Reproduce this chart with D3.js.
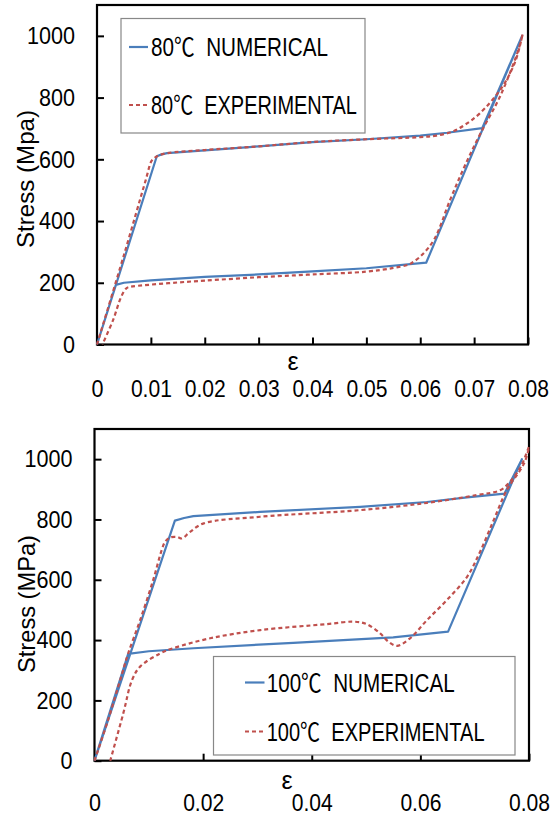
<!DOCTYPE html>
<html>
<head>
<meta charset="utf-8">
<script src="https://cdn.jsdelivr.net/npm/d3@7"></script>
<style>
  html, body { margin: 0; padding: 0; background: #fff; }
  svg { display: block; }
  text { font-family: 'Liberation Sans', Arial, sans-serif; fill: #000; }
  .leg { white-space: pre; }
</style>
</head>
<body>
<svg id="chart" width="560" height="816"></svg>
<script>
// ---------- DATA ----------
// Panel 1: 80°C
const top_num_strain = [0, 0.0111, 0.012, 0.013, 0.02, 0.03, 0.04, 0.05, 0.06, 0.065, 0.0715, 0.0789, 0.0611, 0.05, 0.04, 0.03, 0.02, 0.01, 0.005, 0.0035, 0];
const top_num_stress = [0, 610, 616, 620, 629, 642, 656, 665, 677, 686, 701, 1000, 265, 247, 237, 227, 219, 208, 200, 193, 0];
const top_exp_strain = [0, 0.005, 0.009, 0.0101, 0.0107, 0.0115, 0.013, 0.02, 0.03, 0.04, 0.05, 0.06, 0.063, 0.066, 0.0683, 0.071, 0.075, 0.0776, 0.079,
  0.0783, 0.0749, 0.0713, 0.0683, 0.0656, 0.0626, 0.0603, 0.0585, 0.0577, 0.055, 0.05, 0.04, 0.03, 0.02, 0.015, 0.01, 0.0075, 0.0062, 0.0055, 0.0045, 0.003, 0.001];
const top_exp_stress = [0, 290, 530, 594, 605, 613, 620, 630, 642, 656, 665, 672, 677, 690, 712, 748, 829, 915, 1005,
  959, 807, 688, 580, 471, 341, 290, 265, 258, 248, 236, 227, 218, 207, 201, 194, 190, 187, 183, 155, 80, 0];

// Panel 2: 100°C
const bot_num_strain = [0, 0.0148, 0.0165, 0.0182, 0.0305, 0.0489, 0.0612, 0.0686, 0.0755, 0.0787, 0.0651, 0.055, 0.0366, 0.0182, 0.01, 0.0062, 0];
const bot_num_stress = [0, 796, 805, 811, 825, 842, 858, 873, 886, 1000, 428, 409, 391, 373, 363, 354, 0];
const bot_exp_strain = [0, 0.0025, 0.0051, 0.0062, 0.0084, 0.0108, 0.0124, 0.013, 0.0139, 0.0152, 0.0161, 0.0176, 0.0201, 0.0305, 0.0489, 0.0612, 0.0704, 0.0747, 0.0765, 0.0785, 0.08,
  0.0791, 0.0759, 0.0735, 0.071, 0.0686, 0.0649, 0.0612, 0.0581, 0.0557, 0.0541, 0.0526, 0.0501, 0.0477, 0.0428, 0.0305, 0.0213, 0.0145, 0.0121, 0.0084, 0.0069, 0.0053, 0.0029];
const bot_exp_stress = [0, 135, 290, 356, 466, 599, 700, 726, 740, 742, 737, 759, 787, 809, 831, 855, 881, 897, 925, 975, 1041,
  986, 897, 798, 693, 610, 533, 466, 406, 381, 395, 422, 453, 461, 453, 433, 406, 373, 356, 312, 267, 157, 0];

const top_x_ticks = [0, 0.01, 0.02, 0.03, 0.04, 0.05, 0.06, 0.07, 0.08];
const bot_x_ticks = [0, 0.02, 0.04, 0.06, 0.08];
const y_ticks = [0, 200, 400, 600, 800, 1000];
const top_legend = ["80", "NUMERICAL", "EXPERIMENTAL"];
const bot_legend = ["100", "NUMERICAL", "EXPERIMENTAL"];
const top_ylabel = "Stress (Mpa)";
const bot_ylabel = "Stress (MPa)";

// ---------- STYLE ----------
const BLUE = "#4A7EBB", RED = "#C0504D";
const DASH = "4,3";
const svg = d3.select("#chart");
const fmtX = d => d === 0 ? "0" : d3.format(".2f")(d);
const fmtY = d3.format("d");
// approximate narrow (Calibri-like) widths
const labelLen = s => s.split("").reduce((a, c) => a + (c === "." ? 5 : 12), 0);

function styleTicks(sel) {
  sel.selectAll("text")
    .attr("font-size", 24).attr("font-family", null).attr("fill", "#000")
    .attr("textLength", function() { return labelLen(this.textContent); })
    .attr("lengthAdjust", "spacingAndGlyphs");
}

function panel(cfg) {
  const x = d3.scaleLinear().domain([0, 0.08]).range([cfg.left, cfg.right]);
  const y = d3.scaleLinear().domain([0, 1100]).range([cfg.bottom, cfg.top]);
  const g = svg.append("g");

  const xa = g.append("g").attr("transform", `translate(0,${cfg.bottom})`)
    .call(d3.axisBottom(x).tickValues(cfg.xticks).tickFormat(fmtX).tickSizeInner(-7).tickSizeOuter(0).tickPadding(cfg.xpad));
  xa.select(".domain").remove();
  xa.selectAll("line").attr("stroke", "#000").attr("stroke-width", 2);
  styleTicks(xa);

  const ya = g.append("g").attr("transform", `translate(${cfg.left},0)`)
    .call(d3.axisLeft(y).tickValues(y_ticks).tickFormat(fmtY).tickSizeInner(-7).tickSizeOuter(0).tickPadding(22));
  ya.select(".domain").remove();
  ya.selectAll("line").attr("stroke", "#000").attr("stroke-width", 2);
  styleTicks(ya);

  g.append("rect").attr("x", cfg.left).attr("y", cfg.top)
    .attr("width", cfg.right - cfg.left).attr("height", cfg.bottom - cfg.top)
    .attr("fill", "none").attr("stroke", "#000").attr("stroke-width", 2.2);

  const line = d3.line().x(d => x(d[0])).y(d => y(d[1]));
  const numPts = cfg.numX.map((v, i) => [v, cfg.numY[i]]);
  const expPts = cfg.expX.map((v, i) => [v, cfg.expY[i]]);
  g.append("path").attr("d", line.curve(d3.curveLinear)(numPts))
    .attr("fill", "none").attr("stroke", BLUE).attr("stroke-width", 2.2).attr("stroke-linejoin", "round");
  g.append("path").attr("d", line.curve(d3.curveCatmullRom.alpha(0.5))(expPts))
    .attr("fill", "none").attr("stroke", RED).attr("stroke-width", 2.2).attr("stroke-dasharray", DASH);

  g.append("text").attr("x", cfg.epsX).attr("y", cfg.epsY).attr("text-anchor", "middle")
    .attr("font-size", 25).text("ε");
  g.append("text").attr("transform", `translate(${cfg.ylabX},${cfg.ylabY}) rotate(-90)`)
    .attr("text-anchor", "middle").attr("font-size", 24)
    .attr("textLength", 138).attr("lengthAdjust", "spacingAndGlyphs")
    .text(cfg.ylabel);

  const L = cfg.legend;
  g.append("rect").attr("x", L.x0).attr("y", L.y0).attr("width", L.x1 - L.x0).attr("height", L.y1 - L.y0)
    .attr("fill", "#fff").attr("stroke", "#888").attr("stroke-width", 1.2);
  const rows = [
    {name: cfg.legText[1], color: BLUE, dash: null, ly: L.row1, len: L.len1},
    {name: cfg.legText[2], color: RED, dash: DASH, ly: L.row2, len: L.len2}
  ];
  rows.forEach(r => {
    g.append("line").attr("x1", L.lx0).attr("x2", L.lx1).attr("y1", r.ly).attr("y2", r.ly)
      .attr("stroke", r.color).attr("stroke-width", 2.2).attr("stroke-dasharray", r.dash);
    const t = g.append("text").attr("class", "leg").attr("x", 0).attr("y", 0).attr("font-size", 25);
    t.append("tspan").text(cfg.legText[0]);
    t.append("tspan").style("font-family", "'Noto Sans CJK SC', sans-serif").text("℃");
    t.append("tspan").text("  " + r.name);
    const natural = t.node().getComputedTextLength();
    const sx = r.len / natural;
    t.attr("transform", `translate(${L.tx},${r.ly + 9}) scale(${sx},1)`);
  });
}

panel({
  left: 97, right: 528, top: 5, bottom: 344.5, xticks: top_x_ticks, xpad: 35,
  numX: top_num_strain, numY: top_num_stress, expX: top_exp_strain, expY: top_exp_stress,
  epsX: 293, epsY: 370, ylabX: 34, ylabY: 179, ylabel: top_ylabel,
  legText: top_legend,
  legend: {x0: 121, x1: 365, y0: 18.5, y1: 133, lx0: 129, lx1: 148, row1: 47, row2: 105, tx: 151, len1: 177, len2: 206}
});
panel({
  left: 94.5, right: 529, top: 429, bottom: 760.7, xticks: bot_x_ticks, xpad: 33,
  numX: bot_num_strain, numY: bot_num_stress, expX: bot_exp_strain, expY: bot_exp_stress,
  epsX: 287, epsY: 789, ylabX: 35, ylabY: 604, ylabel: bot_ylabel,
  legText: bot_legend,
  legend: {x0: 213.5, x1: 515, y0: 656.5, y1: 755, lx0: 245, lx1: 264.5, row1: 682.5, row2: 731.5, tx: 266.7, len1: 188, len2: 218}
});
</script>
</body>
</html>
